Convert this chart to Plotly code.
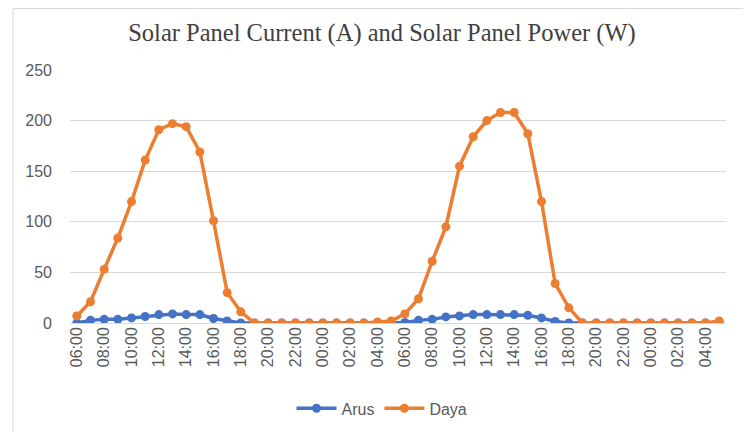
import plotly.graph_objects as go

hours = ["06:00","07:00","08:00","09:00","10:00","11:00","12:00","13:00","14:00","15:00",
         "16:00","17:00","18:00","19:00","20:00","21:00","22:00","23:00","00:00","01:00",
         "02:00","03:00","04:00","05:00"]
time_labels = hours + hours

arus = [0, 2.6, 3.6, 3.6, 5, 6.4, 8.3, 9, 8.3, 8.3, 4.4, 2, 0, 0,
        0, 0, 0, 0, 0, 0, 0, 0, 0, 0,
        0.5, 2.6, 3.6, 6, 7, 8.3, 8.3, 8.3, 8.3, 7.6, 5, 1.6, 0, 0,
        0, 0, 0, 0, 0, 0, 0, 0, 0, 0]
daya = [7, 21, 53, 84, 120, 161, 191, 197, 194, 169, 101, 30, 11, 0,
        0, 0, 0, 0, 0, 0, 0, 0, 1, 2,
        9, 24, 61, 95, 155, 184, 200, 208, 208, 187, 120, 39, 15, 0,
        0, 0, 0, 0, 0, 0, 0, 0, 0, 2]
y_ticks = [0, 50, 100, 150, 200, 250]

x_idx = list(range(len(time_labels)))
tick_idx = x_idx[::2]
tick_txt = time_labels[::2]

fig = go.Figure()
fig.add_trace(go.Scatter(x=x_idx, y=arus, name="Arus", mode="lines+markers",
                         line=dict(color="#4472C4", width=3.5),
                         marker=dict(color="#4472C4", size=9)))
fig.add_trace(go.Scatter(x=x_idx, y=daya, name="Daya", mode="lines+markers",
                         line=dict(color="#ED7D31", width=3.5),
                         marker=dict(color="#ED7D31", size=9)))

OFF = 8  # page body margin
L, T = 70 - OFF, 70 - OFF
R = 751 - (726 - OFF)
B = 432 - (322.7 - OFF)
pw, ph = 751 - L - R, 432 - T - B

tick_font = dict(family="Liberation Sans", size=16, color="#595959")

fig.update_layout(
    width=751, height=432,
    margin=dict(l=L, r=R, t=T, b=B),
    paper_bgcolor="white", plot_bgcolor="white",
    title=dict(text="Solar Panel Current (A) and Solar Panel Power (W)",
               font=dict(family="Liberation Serif", size=24.5, color="#404040"),
               x=(382 - OFF - L) / pw, xref="paper", xanchor="center",
               y=1 - (32 - OFF) / 432, yref="container", yanchor="middle"),
    xaxis=dict(range=[-0.5, len(time_labels) - 0.5], tickmode="array",
               tickvals=tick_idx, ticktext=tick_txt, tickangle=-90,
               showgrid=False, zeroline=False, showline=False, ticks="",
               tickfont=tick_font),
    yaxis=dict(range=[0, 250], tickvals=y_ticks, showgrid=True,
               gridcolor="#D9D9D9", gridwidth=1, zeroline=True,
               zerolinecolor="#D9D9D9", zerolinewidth=1, showline=False, ticks="",
               ticklabelstandoff=17, tickfont=tick_font),
    legend=dict(orientation="h", x=(382 - OFF - L) / pw, xanchor="center",
                y=(322.7 - 408) / ph, yanchor="middle",
                font=dict(family="Liberation Sans", size=16, color="#595959"),
                itemwidth=40),
    shapes=[dict(type="rect", xref="paper", yref="paper",
                 x0=(13 - OFF - L) / pw, x1=(748 - OFF - L) / pw,
                 y0=(T + ph - 440) / ph, y1=(T + ph - 0.5) / ph,
                 line=dict(color="#D9D9D9", width=1), layer="below")],
)

fig.write_html("out.html")
